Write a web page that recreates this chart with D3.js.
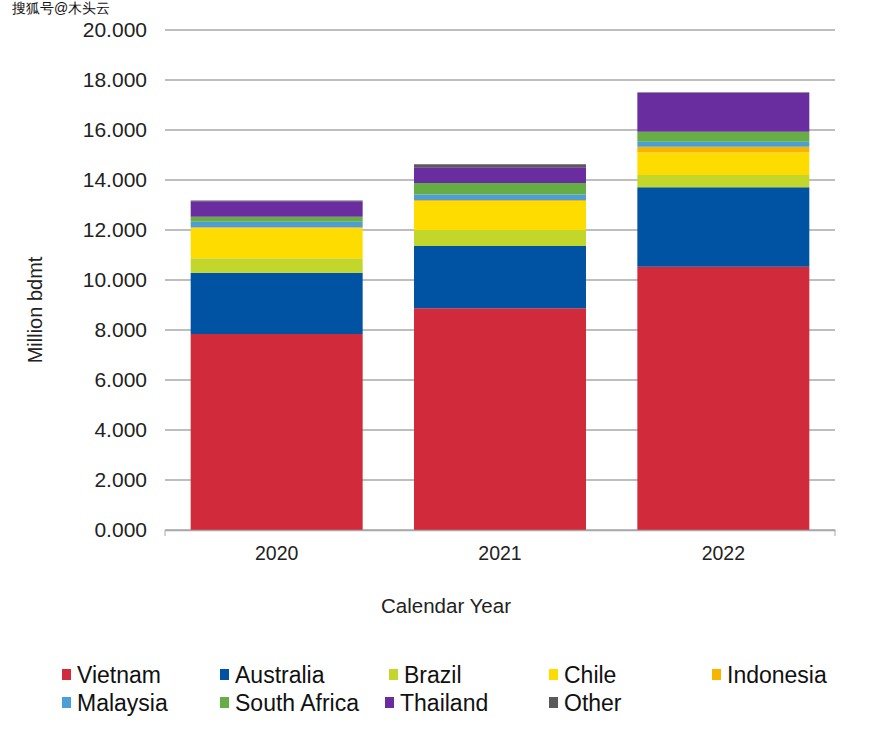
<!DOCTYPE html>
<html><head><meta charset="utf-8">
<script src="https://cdn.jsdelivr.net/npm/d3@7"></script>
<style>body{margin:0;background:#fff}text{font-family:"Liberation Sans",Arial,sans-serif}</style>
</head><body>
<svg id="c" width="880" height="742"></svg>
<script>
const years = ["2020","2021","2022"];
const seriesNames = ["Vietnam","Australia","Brazil","Chile","Indonesia","Malaysia","South Africa","Thailand","Other"];
const vietnam     = [7.84, 8.87, 10.53];
const australia   = [2.45, 2.49, 3.18];
const brazil      = [0.58, 0.64, 0.49];
const chile       = [1.20, 1.15, 0.90];
const indonesia   = [0.04, 0.05, 0.23];
const malaysia    = [0.22, 0.22, 0.20];
const southAfrica = [0.20, 0.46, 0.40];
const thailand    = [0.62, 0.63, 1.56];
const other       = [0.03, 0.12, 0.02];
const yTicks = [0,2,4,6,8,10,12,14,16,18,20];
const colors = ["#d12a3b","#0052a2","#c3d62c","#ffdc00","#f7b500","#4b9fd6","#67ad45","#6a2d9f","#5a5a5a"];

const seriesVals = [vietnam,australia,brazil,chile,indonesia,malaysia,southAfrica,thailand,other];
const rows = years.map((yr,i)=>{const r={year:yr}; seriesNames.forEach((s,j)=>r[s]=seriesVals[j][i]); return r;});
const stacked = d3.stack().keys(seriesNames)(rows);

const svg = d3.select("#c");
const pL=165,pR=835,pT=30,pB=530;
const x = d3.scaleBand().domain(years).range([pL,pR]).paddingInner(0.23).paddingOuter(0.115);
const y = d3.scaleLinear().domain([0,20]).range([pB,pT]);

// gridlines
svg.append("g").selectAll("line").data(yTicks).join("line")
  .attr("x1",pL).attr("x2",pR).attr("y1",d=>y(d)).attr("y2",d=>y(d))
  .attr("stroke","#a8a8a8").attr("stroke-width",1.3);

// y axis labels
svg.append("g").selectAll("text").data(yTicks).join("text")
  .attr("x",147).attr("y",d=>y(d)+7).attr("text-anchor","end")
  .attr("font-size",21).attr("fill","#222")
  .text(d=>d3.format(".3f")(d));

// bars
svg.append("g").selectAll("g").data(stacked).join("g")
  .attr("fill",(d,i)=>colors[i])
  .selectAll("rect").data(d=>d).join("rect")
  .attr("x",d=>x(d.data.year)).attr("width",x.bandwidth())
  .attr("y",d=>y(d[1])).attr("height",d=>y(d[0])-y(d[1]));

// x axis
const xa = svg.append("g").attr("transform",`translate(0,${pB})`)
  .call(d3.axisBottom(x).tickSize(0).tickPadding(16));
xa.select(".domain").attr("stroke","#a8a8a8").attr("stroke-width",1.3);
xa.selectAll("text").attr("font-size",19.5).attr("fill","#222").attr("font-family","Liberation Sans, Arial, sans-serif");
svg.append("g").selectAll("line").data([pL, pR]).join("line")
  .attr("x1",d=>d).attr("x2",d=>d).attr("y1",pB).attr("y2",pB+6).attr("stroke","#a8a8a8");

svg.append("text").attr("x",446).attr("y",613).attr("text-anchor","middle")
  .attr("font-size",20.5).attr("fill","#222").text("Calendar Year");
svg.append("text").attr("transform","translate(42,310) rotate(-90)").attr("text-anchor","middle")
  .attr("font-size",20).attr("fill","#222").text("Million bdmt");

// legend
const legPos = [[62,675],[220,675],[389,675],[549,675],[712,675],[62,703],[220,703],[385,703],[549,703]];
const lg = svg.append("g").selectAll("g").data(seriesNames).join("g")
  .attr("transform",(d,i)=>`translate(${legPos[i][0]},${legPos[i][1]})`);
lg.append("rect").attr("x",0).attr("y",-6).attr("width",9).attr("height",11).attr("fill",(d,i)=>colors[i]);
lg.append("text").attr("x",15).attr("y",8).attr("font-size",23).attr("fill","#111").text(d=>d);

// watermark
svg.append("text").attr("x",12).attr("y",13).attr("font-size",14)
  .attr("font-family","Noto Sans CJK SC, sans-serif").attr("fill","#111")
  .attr("stroke","#fff").attr("stroke-width",3).attr("paint-order","stroke").text("搜狐号@木头云");
</script>
</body></html>
